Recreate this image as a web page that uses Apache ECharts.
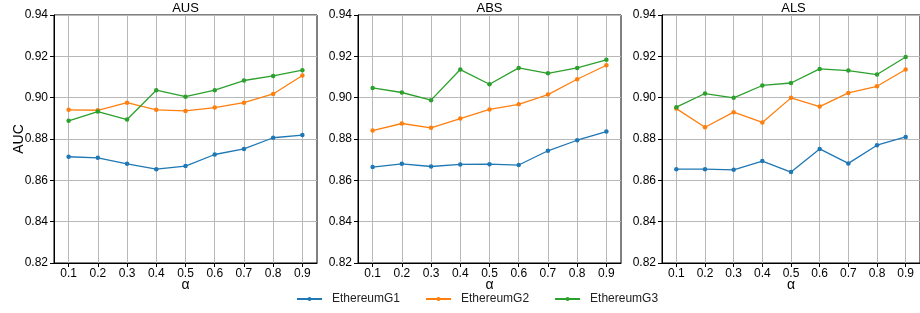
<!DOCTYPE html>
<html>
<head>
<meta charset="utf-8">
<script src="https://cdn.jsdelivr.net/npm/echarts@6/dist/echarts.min.js"></script>
<style>
  html, body { margin: 0; padding: 0; background: #fff; }
  #chart { width: 920px; height: 313px; }
</style>
</head>
<body>
<div id="chart"></div>
<script>
// alpha values on the x axis
var alphas = ['0.1', '0.2', '0.3', '0.4', '0.5', '0.6', '0.7', '0.8', '0.9']
var panelNames = ['AUS', 'ABS', 'ALS']
var seriesNames = ['EthereumG1', 'EthereumG2', 'EthereumG3']

// AUC per panel
var ausG1 = [0.8714, 0.8709, 0.8680, 0.8654, 0.8669, 0.8725, 0.8752, 0.8806, 0.8819]
var ausG2 = [0.8941, 0.8939, 0.8976, 0.8941, 0.8936, 0.8952, 0.8976, 0.9018, 0.9107]
var ausG3 = [0.8888, 0.8933, 0.8894, 0.9036, 0.9005, 0.9036, 0.9083, 0.9105, 0.9133]

var absG1 = [0.8664, 0.8680, 0.8667, 0.8677, 0.8678, 0.8674, 0.8743, 0.8794, 0.8836]
var absG2 = [0.8841, 0.8875, 0.8854, 0.8899, 0.8943, 0.8968, 0.9015, 0.9089, 0.9157]
var absG3 = [0.9047, 0.9025, 0.8988, 0.9136, 0.9065, 0.9144, 0.9118, 0.9144, 0.9183]

var alsG1 = [0.8654, 0.8654, 0.8651, 0.8693, 0.8640, 0.8752, 0.8682, 0.8770, 0.8810]
var alsG2 = [0.8947, 0.8857, 0.8930, 0.8880, 0.8999, 0.8957, 0.9023, 0.9055, 0.9136]
var alsG3 = [0.8954, 0.9020, 0.8999, 0.9059, 0.9071, 0.9139, 0.9131, 0.9112, 0.9197]

var panelData = [
  [ausG1, ausG2, ausG3],
  [absG1, absG2, absG3],
  [alsG1, alsG2, alsG3]
]

var colors = ['#1f77b4', '#ff7f0e', '#2ca02c']
var font = 'Liberation Sans, Arial, sans-serif'
var gridLefts = [54, 358, 662]
var gridWidth = 263

var chart = echarts.init(document.getElementById('chart'), null, { renderer: 'canvas' })

var grids = [], xAxes = [], yAxes = [], titles = [], series = []

for (var p = 0; p < 3; p++) {
  grids.push({
    left: gridLefts[p], top: 15, width: gridWidth, height: 248,
    show: true, borderColor: '#000', borderWidth: 1, backgroundColor: 'transparent'
  })
  titles.push({
    text: panelNames[p],
    left: gridLefts[p] + gridWidth / 2,
    textAlign: 'center',
    top: 2,
    padding: 0,
    textStyle: { fontFamily: font, fontSize: 13, fontWeight: 'normal', color: '#000' }
  })
  xAxes.push({
    type: 'category',
    gridIndex: p,
    data: alphas,
    boundaryGap: true,
    name: 'α',
    nameLocation: 'middle',
    nameGap: 15,
    nameMoveOverlap: false,
    nameTextStyle: { fontFamily: font, fontSize: 14, color: '#000' },
    axisLine: { show: true, lineStyle: { color: '#000', width: 1 } },
    axisTick: { show: true, alignWithLabel: true, length: 4, lineStyle: { color: '#000' } },
    axisLabel: { fontFamily: font, fontSize: 12, color: '#000', margin: 5, interval: 0 },
    splitLine: { show: true, alignWithLabel: true, interval: 0, lineStyle: { color: '#b8b8b8', width: 1 } }
  })
  yAxes.push({
    type: 'value',
    gridIndex: p,
    min: 0.82, max: 0.94, interval: 0.02,
    name: p === 0 ? 'AUC' : '',
    nameLocation: 'middle',
    nameGap: 28,
    nameMoveOverlap: false,
    nameTextStyle: { fontFamily: font, fontSize: 14, color: '#000' },
    axisLine: { show: true, lineStyle: { color: '#000', width: 1 } },
    axisTick: { show: true, length: 4, lineStyle: { color: '#000' } },
    axisLabel: {
      fontFamily: font, fontSize: 12, color: '#000', margin: 6,
      formatter: function (v) { return v.toFixed(2) }
    },
    splitLine: { show: true, lineStyle: { color: '#b8b8b8', width: 1 } }
  })
  for (var s = 0; s < 3; s++) {
    series.push({
      name: seriesNames[s],
      type: 'line',
      xAxisIndex: p,
      yAxisIndex: p,
      data: panelData[p][s],
      color: colors[s],
      symbol: 'circle',
      symbolSize: 4.5,
      lineStyle: { width: 1.3 },
      animation: false
    })
  }
}

chart.setOption({
  animation: false,
  title: titles,
  grid: grids,
  xAxis: xAxes,
  yAxis: yAxes,
  legend: {
    data: seriesNames,
    left: 291,
    top: 288,
    itemWidth: 25,
    itemHeight: 5,
    itemGap: 25,
    textStyle: { fontFamily: font, fontSize: 12, color: '#222', padding: [0, 0, 0, 5] }
  },
  series: series
})
</script>
</body>
</html>
